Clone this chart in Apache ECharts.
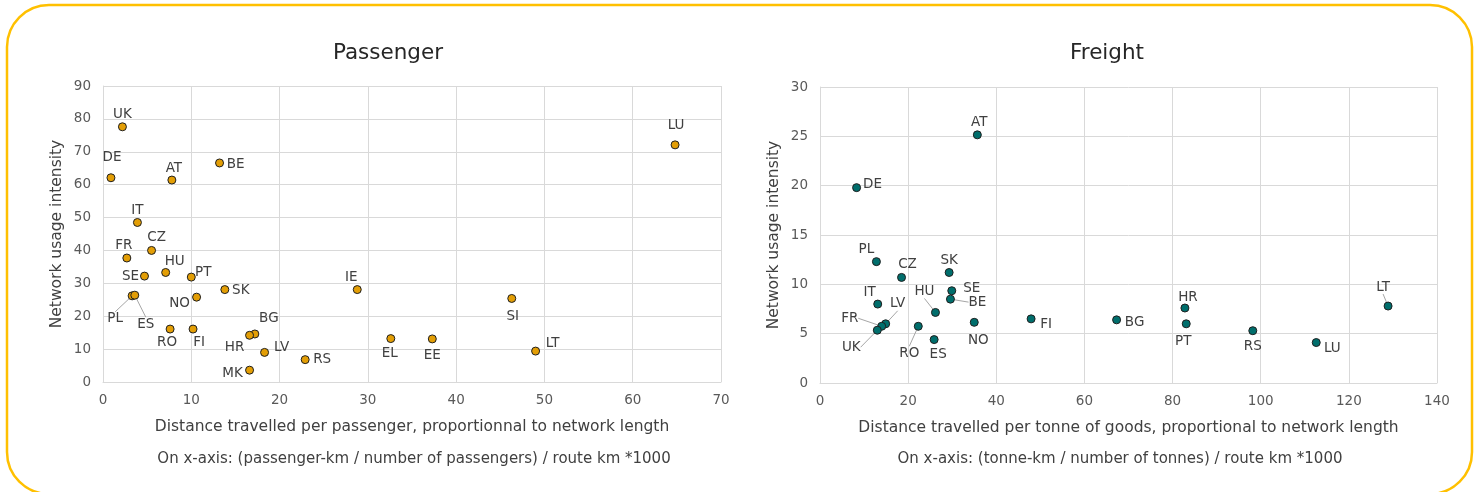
<!DOCTYPE html>
<html><head><meta charset="utf-8">
<script src="https://cdn.jsdelivr.net/npm/echarts@6/dist/echarts.min.js"></script>
<style>html,body{margin:0;padding:0;background:#fff}#c{width:1475px;height:492px}</style>
</head><body><div id="c"></div>
<script>
// ---------- DATA ----------
const passengerCountries = ['UK','DE','AT','BE','IT','CZ','FR','HU','SE','PT','IE','SK','NO','PL','ES','RO','FI','BG','HR','LV','RS','MK','EL','LU','SI','EE','LT'];
const passengerX = [2.2, 0.9, 7.8, 13.2, 3.9, 5.5, 2.7, 7.1, 4.7, 10.0, 28.8, 13.8, 10.6, 3.3, 3.6, 7.6, 10.2, 17.2, 16.6, 18.3, 22.9, 16.6, 32.6, 64.8, 46.3, 37.3, 49.0];
const passengerY = [77.6, 62.1, 61.4, 66.6, 48.5, 40.0, 37.7, 33.3, 32.2, 31.9, 28.1, 28.1, 25.8, 26.2, 26.4, 16.1, 16.1, 14.6, 14.2, 9.0, 6.8, 3.6, 13.2, 72.1, 25.4, 13.1, 9.4];

const freightCountries = ['AT','DE','PL','CZ','SK','SE','BE','IT','HU','LV','FR','UK','RO','ES','NO','FI','BG','HR','PT','RS','LU','LT'];
const freightX = [35.7, 8.3, 12.8, 18.5, 29.3, 29.9, 29.6, 13.1, 26.2, 14.9, 14.0, 13.0, 22.3, 25.9, 35.0, 47.9, 67.3, 82.8, 83.1, 98.2, 112.6, 128.9];
const freightY = [25.15, 19.8, 12.3, 10.7, 11.2, 9.35, 8.5, 8.0, 7.15, 6.0, 5.75, 5.35, 5.75, 4.4, 6.15, 6.5, 6.4, 7.6, 6.0, 5.3, 4.1, 7.8];

const passengerTicksY = {min: 0, max: 90, interval: 10};
const passengerTicksX = {min: 0, max: 70, interval: 10};
const freightTicksY = {min: 0, max: 30, interval: 5};
const freightTicksX = {min: 0, max: 140, interval: 20};

// ---------- LABEL PLACEMENT (style, offsets of label centre from point centre, px) ----------
const passengerLabelOffsets = {
  UK:[0,-12], DE:[1,-20], AT:[2,-12], BE:[16,2], IT:[0,-12], CZ:[5,-13], FR:[-3,-13], HU:[9,-11],
  SE:[-14,0], PT:[12,-5], IE:[-6,-12], SK:[16,1], NO:[-17,6], PL:[-17,23], ES:[11,29],
  RO:[-3,13], FI:[6,13], BG:[14,-15], HR:[-15,12], LV:[17,-5], RS:[17,0], MK:[-17,3],
  EL:[-1,15], LU:[1,-19], SI:[1,18], EE:[0,17], LT:[17,-8]
};
const passengerLeaders = ['PL','ES'];
const freightLabelOffsets = {
  AT:[2,-12], DE:[16,-3], PL:[-10,-12], CZ:[6,-13], SK:[0,-12], SE:[20,-2], BE:[27,3], IT:[-8,-12],
  HU:[-11,-21], LV:[12,-20], FR:[-32,-8], UK:[-26,17], RO:[-9,27], ES:[4,15], NO:[4,18],
  FI:[15,6], BG:[18,3], HR:[3,-11], PT:[-3,18], RS:[0,16], LU:[16,6], LT:[-5,-19]
};
const freightLeaders = ['BE','HU','LV','FR','UK','RO','LT'];

const FONT = 'DejaVu Sans';
const gridColor = '#D9D9D9';

function buildData(names, xs, ys, leaders) {
  return names.map((n, i) => ({
    name: n,
    value: [xs[i], ys[i]],
    labelLine: { show: leaders.indexOf(n) >= 0 }
  }));
}
function makeLayout(names, offsets) {
  return function (p) {
    const o = offsets[names[p.dataIndex]] || [0, -12];
    return {
      x: p.rect.x + p.rect.width / 2 + o[0],
      y: p.rect.y + p.rect.height / 2 + o[1],
      align: 'center',
      verticalAlign: 'middle'
    };
  };
}
function xAxis(idx, t, name) {
  return {
    gridIndex: idx, type: 'value', min: t.min, max: t.max, interval: t.interval,
    name: name, nameLocation: 'middle', nameGap: 37,
    nameTextStyle: { fontFamily: FONT, fontSize: 15.5, color: '#404040' },
    axisLine: { show: true, lineStyle: { color: gridColor } },
    axisTick: { show: false },
    axisLabel: { fontFamily: FONT, fontSize: 13.5, color: '#595959', margin: 11 },
    splitLine: { show: true, lineStyle: { color: gridColor, width: 1 } }
  };
}
function yAxis(idx, t, gap) {
  return {
    gridIndex: idx, type: 'value', min: t.min, max: t.max, interval: t.interval,
    name: 'Network usage intensity', nameLocation: 'middle', nameGap: gap, nameRotate: 90,
    nameTextStyle: { fontFamily: FONT, fontSize: 15.5, color: '#404040' },
    axisLine: { show: true, lineStyle: { color: gridColor } },
    axisTick: { show: false },
    axisLabel: { fontFamily: FONT, fontSize: 13.5, color: '#595959', margin: 12 },
    splitLine: { show: true, lineStyle: { color: gridColor, width: 1 } }
  };
}
function series(idx, names, xs, ys, offsets, leaders, color) {
  return {
    type: 'scatter', xAxisIndex: idx, yAxisIndex: idx,
    symbol: 'circle', symbolSize: 8,
    itemStyle: { color: color, borderColor: '#1F1F1F', borderWidth: 1, opacity: 1 },
    label: { show: true, formatter: '{b}', fontFamily: FONT, fontSize: 13.5, color: '#404040' },
    labelLine: { lineStyle: { color: '#A6A6A6', width: 1 } },
    labelLayout: makeLayout(names, offsets),
    data: buildData(names, xs, ys, leaders),
    animation: false
  };
}

const chart = echarts.init(document.getElementById('c'), null, { renderer: 'canvas' });
chart.setOption({
  backgroundColor: '#fff',
  animation: false,
  title: [
    { text: 'Passenger', left: 383, top: 37, textAlign: 'center',
      textStyle: { fontFamily: FONT, fontSize: 21.5, fontWeight: 'normal', color: '#262626' } },
    { text: 'Freight', left: 1102, top: 37, textAlign: 'center',
      textStyle: { fontFamily: FONT, fontSize: 21.5, fontWeight: 'normal', color: '#262626' } },
    { text: 'On x-axis: (passenger-km / number of passengers) / route km *1000', left: 409, top: 447, textAlign: 'center',
      textStyle: { fontFamily: FONT, fontSize: 15, fontWeight: 'normal', color: '#404040' } },
    { text: 'On x-axis: (tonne-km / number of tonnes) / route km *1000', left: 1115, top: 447, textAlign: 'center',
      textStyle: { fontFamily: FONT, fontSize: 15, fontWeight: 'normal', color: '#404040' } }
  ],
  graphic: [{
    type: 'rect', silent: true, z: -1,
    shape: { x: 7, y: 5, width: 1465, height: 489, r: 42 },
    style: { fill: 'none', stroke: '#FFC000', lineWidth: 2.5 }
  }],
  grid: [
    { left: 103, right: 754, top: 86, bottom: 110, containLabel: false },
    { left: 820, right: 38, top: 87, bottom: 109, containLabel: false }
  ],
  xAxis: [
    xAxis(0, passengerTicksX, 'Distance travelled per passenger, proportionnal to network length'),
    xAxis(1, freightTicksX, 'Distance travelled per tonne of goods, proportional to network length')
  ],
  yAxis: [ yAxis(0, passengerTicksY, 38), yAxis(1, freightTicksY, 38) ],
  series: [
    series(0, passengerCountries, passengerX, passengerY, passengerLabelOffsets, passengerLeaders, '#E39E05'),
    series(1, freightCountries, freightX, freightY, freightLabelOffsets, freightLeaders, '#006E6C')
  ]
});
</script>
</body></html>
